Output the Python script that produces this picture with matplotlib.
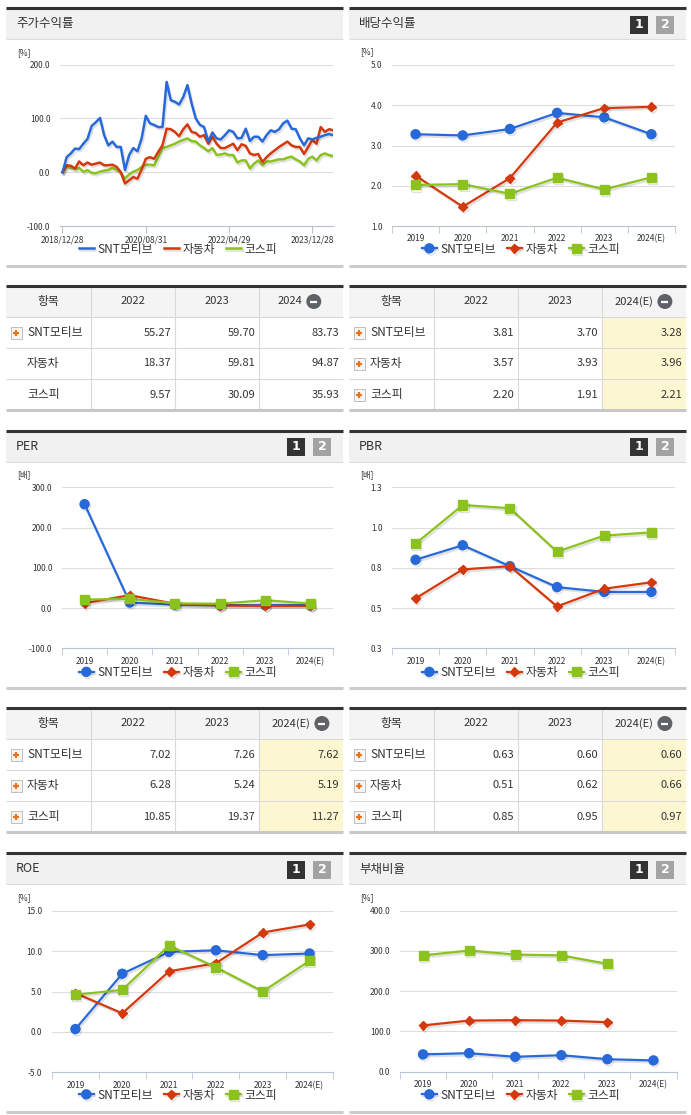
import numpy as np
import matplotlib.pyplot as plt
from matplotlib.patches import Rectangle, Circle
import matplotlib.patheffects as pe

plt.rcParams['font.family'] = ['Noto Sans CJK KR', 'DejaVu Sans']

# ---- data ----
names = ['SNT모티브', '자동차', '코스피']
years = ['2019', '2020', '2021', '2022', '2023', '2024(E)']

# monthly stock return [%], 2018/12 .. 2024/05
stock_snt = [0, 28, 35, 44, 43, 53, 62, 86, 93, 101, 69, 50, 57, 47, 47, 4, 32, 45, 39, 63,
             105, 91, 88, 84, 84, 168, 134, 131, 126, 140, 162, 128, 100, 88, 84, 57, 74, 63, 61, 69,
             78, 75, 63, 64, 81, 58, 66, 66, 57, 69, 78, 75, 80, 91, 96, 81, 80, 63, 50, 63,
             61, 64, 66, 69, 71, 69]
stock_car = [0, 13, 12, 7, 20, 13, 18, 14, 16, 18, 13, 13, 14, 10, 0, -21, -15, -9, -12, 5,
             25, 28, 25, 38, 50, 81, 80, 75, 67, 80, 89, 75, 73, 66, 69, 53, 66, 53, 45, 45,
             49, 53, 41, 52, 49, 35, 32, 34, 19, 28, 35, 41, 47, 52, 57, 50, 47, 47, 34, 47,
             60, 53, 84, 75, 80, 78]
stock_kospi = [0, 10, 8, 6, 8, 1, 4, -1, -2, 1, 3, 4, 8, 4, -1, -12, -4, 1, 4, 10,
               14, 14, 13, 29, 45, 47, 50, 53, 57, 60, 63, 58, 57, 50, 45, 39, 45, 32, 33, 35,
               32, 32, 18, 22, 22, 7, 16, 22, 13, 20, 20, 22, 24, 24, 27, 29, 24, 20, 13, 25,
               29, 22, 32, 35, 32, 30]
stock_tick_idx = [0, 20, 40, 60]
stock_tick_labels = ['2018/12/28', '2020/08/31', '2022/04/29', '2023/12/28']

div_snt = [3.28, 3.25, 3.41, 3.81, 3.70, 3.28]
div_car = [2.25, 1.48, 2.19, 3.57, 3.93, 3.96]
div_kospi = [2.02, 2.04, 1.80, 2.20, 1.91, 2.21]

per_snt = [258.0, 13.5, 8.5, 7.02, 7.26, 7.62]
per_car = [12.0, 32.0, 10.5, 6.28, 5.24, 5.19]
per_kospi = [21.0, 23.0, 11.5, 10.85, 19.37, 11.27]

pbr_snt = [0.80, 0.89, 0.76, 0.63, 0.60, 0.60]
pbr_car = [0.56, 0.74, 0.76, 0.51, 0.62, 0.66]
pbr_kospi = [0.90, 1.14, 1.12, 0.85, 0.95, 0.97]
pbr_ticks = [0.25, 0.5, 0.75, 1.0, 1.25]
pbr_tick_labels = ['0.3', '0.5', '0.8', '1.0', '1.3']

roe_snt = [0.35, 7.2, 9.9, 10.1, 9.5, 9.7]
roe_car = [4.8, 2.3, 7.5, 8.5, 12.3, 13.3]
roe_kospi = [4.6, 5.2, 10.7, 8.0, 5.0, 8.8]

debt_snt = [43, 46, 37, 41, 31, 28]
debt_car = [115, 127, 128, 127, 123, np.nan]
debt_kospi = [289, 301, 291, 289, 268, np.nan]

tbl_years = ['2022', '2023']
tbl_ret = [[55.27, 59.70, 83.73], [18.37, 59.81, 94.87], [9.57, 30.09, 35.93]]
tbl_div = [[3.81, 3.70, 3.28], [3.57, 3.93, 3.96], [2.20, 1.91, 2.21]]
tbl_per = [[7.02, 7.26, 7.62], [6.28, 5.24, 5.19], [10.85, 19.37, 11.27]]
tbl_pbr = [[0.63, 0.60, 0.60], [0.51, 0.62, 0.66], [0.85, 0.95, 0.97]]

colors = ['#2869d9', '#d4380d', '#8cc21e']
markers = ['o', 'D', 's']
msizes = [6.5, 4.5, 6.5]

W, H = 691, 1115
fig = plt.figure(figsize=(W / 100, H / 100), dpi=100)
fig.patch.set_facecolor('white')
bg = fig.add_axes([0, 0, 1, 1])
bg.set_xlim(0, W)
bg.set_ylim(H, 0)
bg.axis('off')

shadow = [pe.SimpleLineShadow(offset=(1, -1.5), alpha=0.12), pe.Normal()]


def frect(x0, y0, x1, y1):
    return [x0 / W, 1 - y1 / H, (x1 - x0) / W, (y1 - y0) / H]


def hline(x0, x1, y, color, lw):
    bg.plot([x0, x1], [y, y], color=color, lw=lw, solid_capstyle='butt')


def panel(x0, x1, top, bottom, title, btns=True):
    bg.add_patch(Rectangle((x0, top), x1 - x0, 31, fc='#f1f1f1', ec='none'))
    hline(x0, x1, top + 31, '#dcdcdc', 0.8)
    hline(x0, x1, top, '#333333', 2.2)
    hline(x0, x1, bottom, '#cccccc', 2.2)
    bg.text(x0 + 10, top + 16, title, fontsize=9, color='#333333', ha='left', va='center')
    if btns:
        for k, (lab, c) in enumerate([('1', '#333333'), ('2', '#a3a3a3')]):
            bx = x1 - 56 + k * 26
            bg.add_patch(Rectangle((bx, top + 7.5), 18, 18, fc=c, ec='none'))
            bg.text(bx + 9, top + 16.5, lab, color='white', fontsize=9, fontweight='bold',
                    ha='center', va='center', family='DejaVu Sans')


def legend(ax, cx, cy):
    h, l = ax.get_legend_handles_labels()
    fig.legend(h, l, loc='center', bbox_to_anchor=(cx / W, 1 - cy / H), ncol=3, frameon=False,
               fontsize=8.5, handlelength=1.3, handletextpad=0.3, columnspacing=0.9,
               labelcolor='#333333')


def style_axes(ax):
    ax.set_facecolor('none')
    for s in ['top', 'right', 'left']:
        ax.spines[s].set_visible(False)
    ax.spines['bottom'].set_color('#b8c4d6')
    ax.grid(axis='y', color='#dddddd', lw=0.8)
    ax.set_axisbelow(True)
    ax.tick_params(axis='y', length=0, pad=7, labelsize=6, labelcolor='#333333')


def cat_chart(rect, data, ylim, yticks, ylabels, unit, unit_xy, leg_xy):
    ax = fig.add_axes(frect(*rect))
    style_axes(ax)
    x = np.arange(len(years))
    for vals, name, col, mk, ms in zip(data, names, colors, markers, msizes):
        ax.plot(x, vals, color=col, lw=1.6, marker=mk, ms=ms, label=name,
                path_effects=shadow)
    ax.set_xlim(-0.5, len(years) - 0.5)
    ax.set_ylim(*ylim)
    ax.set_yticks(yticks)
    ax.set_yticklabels(ylabels)
    ax.set_xticks(x)
    ax.set_xticklabels(years)
    ax.set_xticks(np.arange(-0.5, len(years)), minor=True)
    ax.tick_params(axis='x', which='major', length=0, pad=6, labelsize=6, labelcolor='#333333')
    ax.tick_params(axis='x', which='minor', length=5, color='#b8c4d6', direction='out')
    bg.text(unit_xy[0], unit_xy[1], unit, fontsize=6, color='#333333', ha='left', va='center')
    legend(ax, *leg_xy)
    return ax


def table(x0, x1, top, last_head, rows, yellow, icons):
    edges = [x0, x0 + 85, x0 + 169, x0 + 253, x1]
    rh = 31
    bg.add_patch(Rectangle((x0, top), x1 - x0, rh, fc='#f4f4f4', ec='none'))
    if yellow:
        bg.add_patch(Rectangle((edges[3], top + rh), edges[4] - edges[3], 3 * rh,
                               fc='#fdf7d1', ec='none'))
    for i in range(1, 4):
        hline(x0, x1, top + rh * i, '#d9d9d9', 0.8)
    for e in edges[1:-1]:
        bg.plot([e, e], [top, top + 4 * rh], color='#d9d9d9', lw=0.8)
    hline(x0, x1, top, '#333333', 2.2)
    hline(x0, x1, top + 4 * rh, '#c8c8c8', 2.2)

    hy = top + rh / 2
    bg.text((edges[0] + edges[1]) / 2, hy, '항목', fontsize=8.5, color='#333333',
            ha='center', va='center')
    for j, yr in enumerate(tbl_years):
        bg.text((edges[j + 1] + edges[j + 2]) / 2, hy, yr, fontsize=8, color='#333333',
                ha='center', va='center')
    cx = (edges[3] + edges[4]) / 2
    tw = 5.4 * len(last_head)
    left = cx - (tw + 19) / 2
    bg.text(left + tw, hy, last_head, fontsize=8, color='#333333', ha='right', va='center')
    ccx = left + tw + 11.5
    bg.add_patch(Circle((ccx, hy), 7.5, fc='#5f6368', ec='none'))
    hline(ccx - 3.5, ccx + 3.5, hy, 'white', 1.6)

    for i, (name, vals) in enumerate(zip(names, rows)):
        cy = top + rh * (i + 1) + rh / 2
        if icons[i]:
            bg.add_patch(Rectangle((x0 + 5, cy - 6), 11, 12, fc='#f6f6f6', ec='#b5b5b5', lw=0.6))
            hline(x0 + 7.5, x0 + 13.5, cy, '#f07014', 1.6)
            bg.plot([x0 + 10.5, x0 + 10.5], [cy - 3, cy + 3], color='#f07014', lw=1.6,
                    solid_capstyle='butt')
        bg.text(x0 + 21, cy, name, fontsize=8.5, color='#333333', ha='left', va='center')
        for j, v in enumerate(vals):
            bg.text(edges[j + 2] - 4, cy, '%.2f' % v, fontsize=8, color='#333333',
                    ha='right', va='center')


# ---- panels ----
LX0, LX1, RX0, RX1 = 6, 343, 349, 686
panel(LX0, LX1, 8, 265.5, '주가수익률', btns=False)
panel(RX0, RX1, 8, 265.5, '배당수익률')
panel(LX0, LX1, 430.5, 688, 'PER')
panel(RX0, RX1, 430.5, 688, 'PBR')
panel(LX0, LX1, 853, 1111.5, 'ROE')
panel(RX0, RX1, 853, 1111.5, '부채비율')

# ---- stock return chart ----
ax = fig.add_axes(frect(60, 64.7, 333.2, 226))
style_axes(ax)
xs = np.arange(len(stock_snt))
ax.plot(xs, stock_kospi, color=colors[2], lw=1.8, label=names[2], zorder=2, path_effects=shadow)
ax.plot(xs, stock_car, color=colors[1], lw=1.8, label=names[1], zorder=3, path_effects=shadow)
ax.plot(xs, stock_snt, color=colors[0], lw=1.8, label=names[0], zorder=4, path_effects=shadow)
ax.set_xlim(-0.6, len(stock_snt) - 1)
ax.set_ylim(-100, 200)
ax.set_yticks([-100, 0, 100, 200])
ax.set_yticklabels(['%.1f' % v for v in [-100, 0, 100, 200]])
ax.set_xticks(stock_tick_idx)
ax.set_xticklabels(stock_tick_labels)
ax.tick_params(axis='x', length=5, color='#b8c4d6', pad=2, labelsize=6, labelcolor='#333333')
bg.text(17, 53, '[%]', fontsize=6, color='#333333', ha='left', va='center')
h, l = ax.get_legend_handles_labels()
fig.legend(h[::-1], l[::-1], loc='center', bbox_to_anchor=(178 / W, 1 - 249 / H), ncol=3,
           frameon=False, fontsize=8.5, handlelength=1.3, handletextpad=0.3,
           columnspacing=0.9, labelcolor='#333333')

# ---- category charts ----
cat_chart((392, 65, 675, 226), [div_snt, div_car, div_kospi], (1, 5), [1, 2, 3, 4, 5],
          ['%.1f' % v for v in [1, 2, 3, 4, 5]], '[%]', (360, 52), (521, 249))
cat_chart((62, 487.3, 333, 648.3), [per_snt, per_car, per_kospi], (-100, 300),
          [-100, 0, 100, 200, 300], ['%.1f' % v for v in [-100, 0, 100, 200, 300]],
          '[배]', (17, 475), (178, 672.5))
cat_chart((392, 487.3, 675, 648.3), [pbr_snt, pbr_car, pbr_kospi], (0.25, 1.25),
          pbr_ticks, pbr_tick_labels, '[배]', (360, 475), (521, 672.5))
cat_chart((52, 910.7, 333, 1072.3), [roe_snt, roe_car, roe_kospi], (-5, 15),
          [-5, 0, 5, 10, 15], ['%.1f' % v for v in [-5, 0, 5, 10, 15]],
          '[%]', (17, 898), (178, 1095))
cat_chart((400, 910.7, 676.5, 1071.7), [debt_snt, debt_car, debt_kospi], (0, 400),
          [0, 100, 200, 300, 400], ['%.1f' % v for v in [0, 100, 200, 300, 400]],
          '[%]', (360, 898), (521, 1095))

# ---- tables ----
table(LX0, LX1, 286, '2024', tbl_ret, False, [True, False, False])
table(RX0, RX1, 286, '2024(E)', tbl_div, True, [True, True, True])
table(LX0, LX1, 708, '2024(E)', tbl_per, True, [True, True, True])
table(RX0, RX1, 708, '2024(E)', tbl_pbr, True, [True, True, True])

fig.savefig('out.png', dpi=100, facecolor='white')
